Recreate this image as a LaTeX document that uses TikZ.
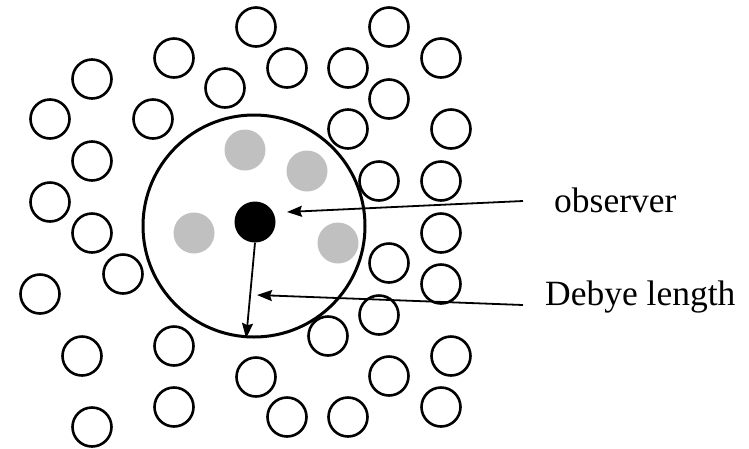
\documentclass[tikz,border=0pt]{standalone}
\usepackage{fontspec}
\setmainfont{Liberation Serif}
\usetikzlibrary{arrows.meta}
\definecolor{ion}{RGB}{192,192,192}
\begin{document}
\begin{tikzpicture}[x=1pt,y=-1pt,
  ring/.style={circle,draw=black,line width=2.6pt,minimum size=39pt,inner sep=0pt},
  ion/.style={circle,fill=ion,minimum size=41pt,inner sep=0pt},
  observer/.style={circle,fill=black,minimum size=41pt,inner sep=0pt},
  sphere/.style={circle,draw=black,line width=3pt,minimum size=222pt,inner sep=0pt},
  pointer/.style={line width=1.8pt,-{Stealth[length=15pt,width=11pt,inset=2pt]}},
  label/.style={anchor=base west,inner sep=0pt,font=\fontsize{35.5}{40}\selectfont}]
\useasboundingbox (0,0) rectangle (749,448);

% Debye sphere with the observer and the screening ions inside
\node[sphere] (sph) at (254,226) {};
\node[ion] (i1) at (245,150) {};
\node[ion] (i2) at (307,171) {};
\node[ion] (i3) at (194,233) {};
\node[ion] (i4) at (338,243) {};
\node[observer] (obs) at (255,222) {};

% surrounding plasma particles
\foreach \px/\py [count=\k] in {
  256/27, 389/27, 174/58, 441/58, 287/68, 348/68, 92/79, 225/88, 389/99,
  50/119, 153/119, 348/129, 451/129, 92/161, 379/181, 441/181, 50/202,
  441/233, 92/233, 389/263, 123/274, 441/284, 40/294, 379/315, 328/336,
  174/346, 82/356, 451/356, 256/377, 389/376, 174/407, 441/407, 287/417,
  348/417, 92/427}
  \node[ring] (p\k) at (\px,\py) {};

% labels
\node[label] (tobs) at (554,212) {observer};
\node[label] (tdeb) at (545,305) {Debye length};

% pointers
\coordinate (obsTail) at (523,201);
\coordinate (obsTip) at (287,212);
\coordinate (debTail) at (523,305);
\coordinate (debTip) at (257,295);
\draw[pointer] (obsTail) -- (obsTip);
\draw[pointer] (debTail) -- (debTip);
\draw[pointer] (obs.south) -- (sph.-94);
\end{tikzpicture}
\end{document}
